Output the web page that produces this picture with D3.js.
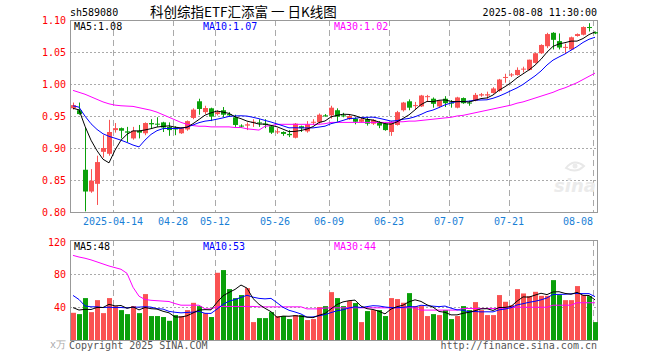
<!DOCTYPE html>
<html>
<head>
<meta charset="utf-8">
<script src="https://cdn.jsdelivr.net/npm/d3@7"></script>
<style>
body { margin: 0; background: #fff; }
svg text { font-family: "DejaVu Sans Mono", monospace; font-size: 10px; }
</style>
</head>
<body>
<div id="chart"></div>
<script>
// daily k-line, 2025-04-02 .. 2025-08-08 (88 trading days)
var opens  = [0.962,0.959,0.866,0.832,0.844,0.894,0.891,0.928,0.931,0.926,0.915,0.927,0.923,0.939,0.938,0.940,0.933,0.932,0.923,0.929,
              0.947,0.973,0.956,0.962,0.953,0.959,0.953,0.948,0.935,0.935,0.940,0.940,0.938,0.934,0.925,0.925,0.922,0.916,0.934,0.926,
              0.940,0.940,0.951,0.951,0.959,0.951,0.945,0.946,0.941,0.945,0.938,0.940,0.938,0.925,0.936,0.959,0.973,0.966,0.965,0.980,
              0.977,0.965,0.977,0.971,0.963,0.978,0.971,0.974,0.982,0.982,0.986,0.9895,1.010,1.014,1.014,1.023,1.022,1.033,1.048,1.059,
              1.080,1.067,1.057,1.054,1.075,1.077,1.089,1.081];
var highs  = [0.971,0.971,0.932,0.867,0.888,0.920,0.944,0.939,0.932,0.933,0.933,0.936,0.940,0.945,0.948,0.941,0.940,0.934,0.932,0.943,
              0.962,0.977,0.966,0.963,0.959,0.964,0.956,0.952,0.937,0.940,0.945,0.945,0.945,0.936,0.931,0.926,0.928,0.939,0.935,0.942,
              0.945,0.954,0.953,0.966,0.962,0.955,0.952,0.948,0.947,0.948,0.945,0.942,0.940,0.942,0.958,0.972,0.976,0.972,0.983,0.983,
              0.979,0.975,0.981,0.975,0.980,0.979,0.974,0.986,0.986,0.988,0.995,1.008,1.016,1.017,1.026,1.027,1.038,1.049,1.062,1.080,
              1.081,1.079,1.063,1.074,1.079,1.090,1.095,1.082];
var lows   = [0.960,0.952,0.801,0.830,0.811,0.885,0.888,0.924,0.915,0.909,0.913,0.915,0.920,0.931,0.933,0.925,0.919,0.920,0.922,0.927,
              0.945,0.952,0.953,0.942,0.951,0.948,0.949,0.933,0.932,0.928,0.933,0.933,0.931,0.922,0.922,0.919,0.917,0.915,0.925,0.924,
              0.936,0.938,0.949,0.946,0.941,0.948,0.944,0.937,0.940,0.935,0.936,0.931,0.927,0.919,0.935,0.957,0.959,0.960,0.964,0.973,
              0.963,0.963,0.964,0.963,0.962,0.969,0.966,0.973,0.980,0.977,0.985,0.988,1.002,1.011,1.013,1.018,1.021,1.032,1.047,1.056,
              1.054,1.054,1.047,1.053,1.074,1.076,1.082,1.078];
var closes = [0.967,0.953,0.832,0.849,0.878,0.900,0.925,0.931,0.927,0.924,0.927,0.924,0.939,0.937,0.937,0.932,0.928,0.929,0.931,0.942,
              0.960,0.961,0.9625,0.949,0.956,0.952,0.951,0.936,0.934,0.937,0.941,0.939,0.936,0.924,0.926,0.922,0.920,0.938,0.931,0.937,
              0.941,0.952,0.950,0.963,0.949,0.950,0.950,0.941,0.945,0.938,0.944,0.935,0.928,0.941,0.956,0.971,0.963,0.967,0.982,0.981,
              0.969,0.974,0.970,0.970,0.979,0.970,0.970,0.983,0.984,0.984,0.993,1.007,1.011,1.015,1.022,1.024,1.038,1.048,1.061,1.078,
              1.069,1.057,1.058,1.073,1.078,1.089,1.088,1.079];
// closes of the 9 sessions before the window (for MA5 / MA10)
var priorCloses = [0.975,0.972,0.968,0.967,0.968,0.965,0.960,0.958,0.960];
var ma30 = [0.990,0.987,0.984,0.980,0.976,0.972,0.969,0.967,0.966,0.9655,0.965,0.963,0.961,0.959,0.956,0.952,0.948,0.944,0.940,0.937,
            0.935,0.934,0.934,0.933,0.933,0.933,0.933,0.932,0.932,0.930,0.929,0.928,0.934,0.935,0.937,0.937,0.937,0.937,0.937,0.937,
            0.937,0.937,0.938,0.940,0.940,0.940,0.940,0.940,0.940,0.940,0.940,0.940,0.940,0.940,0.941,0.941,0.942,0.942,0.943,0.944,
            0.945,0.946,0.947,0.948,0.950,0.951,0.953,0.955,0.957,0.959,0.961,0.963,0.965,0.967,0.970,0.972,0.975,0.978,0.981,0.984,
            0.987,0.991,0.994,0.998,1.002,1.007,1.012,1.017];

var volumes = [32.7,31.1,50.7,33.5,48.2,32.3,50.7,40.9,36.0,31.1,40.9,32.3,55.6,28.7,28.7,27.5,22.9,29.9,28.7,36.0,
               44.9,40.9,32.3,27.5,81.7,85.0,61.7,50.7,54.4,62.9,21.3,26.2,26.2,33.5,28.7,28.7,25.0,29.9,29.9,23.8,
               25.0,39.7,40.9,58.0,50.7,40.9,47.0,44.6,21.3,34.8,36.0,36.0,28.7,50.7,49.5,45.0,56.8,40.9,40.9,28.7,
               31.1,29.9,36.0,25.0,28.7,40.9,36.0,45.8,36.0,29.9,29.9,54.4,46.2,42.1,61.7,56.4,53.1,58.4,53.5,53.5,
               72.7,54.4,48.2,48.2,65.4,54.4,53.1,21.3];
var priorVolumes = [81,130,43.5,48,41.9,46,46,35,35.5];
var volMa30 = [103,101,99.5,97.5,95,92.5,90,88,86,81,64,53,49,48,47.5,47,46.5,44,42,42,
               42,42,37.5,37.5,40,40.5,40.5,40.5,40.5,40.5,40.5,40,40,40,40,40,40,40,40,37.5,
               37.5,37.5,38.5,38.8,38.8,38.8,38.8,38.8,38.8,38.8,38.8,38.8,38.8,38.8,38.8,38.8,38.8,38.8,36,36,
               36,36,36,36,36,38,38,38,38,38,38,38,38.5,39,39.5,39.5,39.5,39.5,39.5,39.5,
               42,42,42,42,45,45,45,45];

var tickIdx = [7, 17, 24, 34, 43, 53, 63, 73, 87];
var tickLabels = ["2025-04-14","04-28","05-12","05-26","06-09","06-23","07-07","07-21","08-08"];
var priceTicks = [1.10, 1.05, 1.00, 0.95, 0.90, 0.85, 0.80];
var volTicks = [120, 80, 40];
var priceMaLabels = ["MA5:1.08", "MA10:1.07", "MA30:1.02"];
var volMaLabels = ["MA5:48", "MA10:53", "MA30:44"];
var maColors = ["#000000", "#0000ff", "#ff00ff"];

var width = 660, height = 360;
var left = 70, right = 597;
var red = "#fa5252", green = "#0aa00a";

function movingAvg(prior, vals, n) {
    var all = prior.concat(vals);
    return vals.map(function (v, i) {
        var end = i + prior.length + 1;
        return d3.mean(all.slice(end - n, end));
    });
}

var ma5 = movingAvg(priorCloses, closes, 5);
var ma10 = movingAvg(priorCloses, closes, 10);
var vma5 = movingAvg(priorVolumes, volumes, 5);
var vma10 = movingAvg(priorVolumes, volumes, 10);

var idx = d3.range(closes.length);
var x = d3.scalePoint().domain(idx).range([left, right + 1]).padding(0.5);
var y = d3.scaleLinear().domain([0.80, 1.10]).range([212, 20]);
var yv = d3.scaleLinear().domain([0, 120]).range([339.5, 241.5]);

var svg = d3.select("#chart").append("svg")
    .attr("width", width)
    .attr("height", height);

// header
svg.append("text").attr("x", 70).attr("y", 16).attr("fill", "#000").text("sh589080");
svg.append("text").attr("x", 150).attr("y", 17)
    .attr("fill", "#000")
    .style("white-space", "pre")
    .style("font-family", "'Noto Sans CJK SC', sans-serif").style("font-size", "13.5px")
    .text("科创综指ETF汇添富 一 日K线图");
svg.append("text").attr("x", 597).attr("y", 16).attr("text-anchor", "end").attr("fill", "#000")
    .text("2025-08-08 11:30:00");

function panel(top, bottom, gridVals, scale) {
    var g = svg.append("g");
    g.selectAll(".hgrid").data(gridVals).enter().append("line")
        .attr("x1", left).attr("x2", right)
        .attr("y1", function (d) { return Math.round(scale(d)) + 0.5; })
        .attr("y2", function (d) { return Math.round(scale(d)) + 0.5; })
        .attr("stroke", "#aaa").attr("stroke-dasharray", "2,2");
    g.selectAll(".vgrid").data(tickIdx).enter().append("line")
        .attr("x1", function (d) { return x(d) - 2 + 0.5; })
        .attr("x2", function (d) { return x(d) - 2 + 0.5; })
        .attr("y1", top).attr("y2", bottom)
        .attr("stroke", "#aaa").attr("stroke-dasharray", "6,4");
    g.append("rect")
        .attr("x", left + 0.5).attr("y", top + 0.5)
        .attr("width", right - left).attr("height", bottom - top)
        .attr("fill", "none").attr("stroke", "#999");
}

panel(20, 212, [1.05, 1.00, 0.95, 0.90, 0.85], y);
panel(240, 340, [80, 40], yv);

// watermark
var wm = svg.append("g").attr("fill", "#ebebeb");
wm.append("path").attr("d", "M566,168 q8,-10 18,-2 q-8,8 -18,2 z").attr("fill", "none")
    .attr("stroke", "#e8e8e8").attr("stroke-width", 2);
wm.append("circle").attr("cx", 575).attr("cy", 166).attr("r", 2.5);
wm.append("text").attr("x", 554).attr("y", 192)
    .style("font-family", "'DejaVu Sans', sans-serif").style("font-size", "18px")
    .style("font-style", "italic").style("font-weight", "bold").text("sina");

// axis labels
svg.selectAll(".plab").data(priceTicks).enter().append("text")
    .attr("x", 66).attr("y", function (d) { return y(d) + 4; })
    .attr("text-anchor", "end").attr("fill", "#ff0000")
    .text(function (d) { return d3.format(".2f")(d); });
svg.selectAll(".vlab").data(volTicks).enter().append("text")
    .attr("x", 66).attr("y", function (d) { return yv(d) + 4; })
    .attr("text-anchor", "end").attr("fill", "#ff0000")
    .text(function (d) { return d; });
svg.selectAll(".xlab").data(tickIdx).enter().append("text")
    .attr("x", function (d) { return x(d) - 2; })
    .attr("y", 225)
    .attr("text-anchor", function (d, i) { return i === tickIdx.length - 1 ? "end" : "middle"; })
    .attr("fill", "#1a7fd6")
    .text(function (d, i) { return tickLabels[i]; });

// candles
var cg = svg.append("g");
idx.forEach(function (i) {
    var up = closes[i] >= opens[i];
    var col = up ? red : green;
    var cx = x(i);
    cg.append("line")
        .attr("x1", cx + 0.5).attr("x2", cx + 0.5)
        .attr("y1", y(highs[i])).attr("y2", y(lows[i]))
        .attr("stroke", col);
    var top = y(Math.max(opens[i], closes[i])), bot = y(Math.min(opens[i], closes[i]));
    cg.append("rect")
        .attr("x", cx - 2).attr("width", 5)
        .attr("y", top).attr("height", Math.max(1, bot - top))
        .attr("fill", col);
});

// volume bars
svg.append("g").selectAll("rect").data(idx).enter().append("rect")
    .attr("x", function (i) { return x(i) - 2; })
    .attr("width", 5)
    .attr("y", function (i) { return yv(volumes[i]); })
    .attr("height", function (i) { return 340 - yv(volumes[i]); })
    .attr("fill", function (i) { return closes[i] >= opens[i] ? red : green; });

// MA lines
function drawLine(vals, scale, color) {
    var line = d3.line()
        .x(function (d, i) { return x(i); })
        .y(function (d) { return scale(d); });
    svg.append("path").datum(vals)
        .attr("d", line)
        .attr("fill", "none").attr("stroke", color).attr("stroke-width", 1);
}
drawLine(ma30, y, maColors[2]);
drawLine(ma10, y, maColors[1]);
drawLine(ma5, y, maColors[0]);
drawLine(volMa30, yv, maColors[2]);
drawLine(vma10, yv, maColors[1]);
drawLine(vma5, yv, maColors[0]);

// legends
var legX = [74, 203, 334];
priceMaLabels.forEach(function (t, i) {
    svg.append("text").attr("x", legX[i]).attr("y", 30).attr("fill", maColors[i]).text(t);
});
volMaLabels.forEach(function (t, i) {
    svg.append("text").attr("x", legX[i]).attr("y", 250).attr("fill", maColors[i]).text(t);
});

// footer
svg.append("text").attr("x", 50).attr("y", 348).attr("fill", "#aaa").text("x万");
svg.append("text").attr("x", 69).attr("y", 349).attr("fill", "#555").text("Copyright 2025 SINA.COM");
svg.append("text").attr("x", 597).attr("y", 349).attr("text-anchor", "end").attr("fill", "#555")
    .text("http://finance.sina.com.cn");
</script>
</body>
</html>
